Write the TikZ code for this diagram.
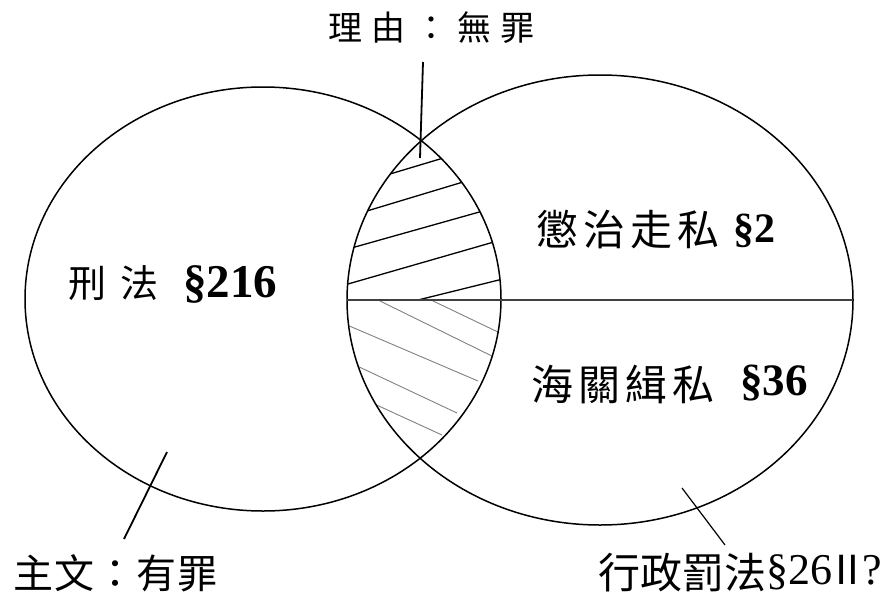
\documentclass[tikz,border=0pt]{standalone}
\usepackage{fontspec}
\setmainfont{Liberation Serif}
\newfontfamily\cjk{Noto Sans CJK TC}
\begin{document}
\begin{tikzpicture}[x=1pt,y=-1pt,
  venn/.style={line width=1.5pt, black},
  hatchup/.style={line width=1.3pt, black},
  hatchlow/.style={line width=0.9pt, black!50},
  midline/.style={line width=1.3pt, black!75},
  tick/.style={line width=1.8pt, black},
  thintick/.style={line width=1.2pt, black},
  lab/.style={inner sep=0pt, anchor=base west},
  cjkA/.style={lab, font=\cjk\fontsize{34}{34}\selectfont},
  cjkB/.style={lab, font=\cjk\fontsize{38}{38}\selectfont},
  cjkC/.style={lab, font=\cjk\fontsize{42}{42}\selectfont},
  cjkD/.style={lab, font=\cjk\fontsize{40}{40}\selectfont},
  sec/.style={lab, font=\bfseries\fontsize{#1}{#1}\selectfont},
  secl/.style={lab, font=\fontsize{#1}{#1}\selectfont}
]
\useasboundingbox (0,0) rectangle (891,594);

% hatching inside the lens
\begin{scope}
  \clip (263,299) ellipse [x radius=238pt, y radius=212pt];
  \clip (600,300) ellipse [x radius=253pt, y radius=225pt];
  \draw[hatchup] (380,177) -- (460,153);
  \draw[hatchup] (355,214.6) -- (475,178.4);
  \draw[hatchup] (345,249.8) -- (495,207.6);
  \draw[hatchup] (340,286.3) -- (505,238.8);
  \draw[hatchup] (418,300) -- (515,276);
  \draw[hatchlow] (431,300) -- (500,333);
  \draw[hatchlow] (380,301) -- (500,360);
  \draw[hatchlow] (340,322) -- (478,381);
  \draw[hatchlow] (355,365) -- (457,413);
  \draw[hatchlow] (370,402) -- (442,435);
\end{scope}

% the two sets
\draw[venn] (263,299) ellipse [x radius=238pt, y radius=212pt];
\draw[venn] (600,300) ellipse [x radius=253pt, y radius=225pt];
\coordinate (mL) at (347,300);
\coordinate (mR) at (853,300);
\draw[midline] (mL) -- (mR);

% labels
\node[cjkA] (reason) at (328,41) {理\hspace{9pt}由\hspace{9pt}：\hspace{9pt}無\hspace{9pt}罪};
\node[cjkB] (crim) at (68,297) {刑\hspace{14pt}法};
\node[sec=47] (crimsec) at (183,297) {§216};
\node[cjkC] (smug) at (536,245) {懲\hspace{5pt}治\hspace{5pt}走\hspace{5pt}私};
\node[sec=42] (smugsec) at (733,242) {§2};
\node[cjkC] (cust) at (531,400) {海\hspace{5pt}關\hspace{5pt}緝\hspace{5pt}私};
\node[sec=45] (custsec) at (740,395) {§36};
\node[cjkD] (main) at (13,588) {主\hspace{1pt}文\hspace{1pt}：\hspace{1pt}有\hspace{1pt}罪};
\node[cjkC] (admin) at (598,588) {行政罰法};
\node[secl=44] (adminsec) at (766,584) {§26\kern-5pt{\cjk\fontsize{40}{40}\selectfont Ⅱ}\kern-5pt?};

% pointer ticks
\coordinate (t1a) at (423,62);
\coordinate (t1b) at (420,158);
\coordinate (t2a) at (167,452);
\coordinate (t2b) at (124,539);
\coordinate (t3a) at (682,488);
\coordinate (t3b) at (725,545);
\draw[tick] (t1a) -- (t1b);
\draw[tick] (t2a) -- (t2b);
\draw[thintick] (t3a) -- (t3b);
\end{tikzpicture}
\end{document}
